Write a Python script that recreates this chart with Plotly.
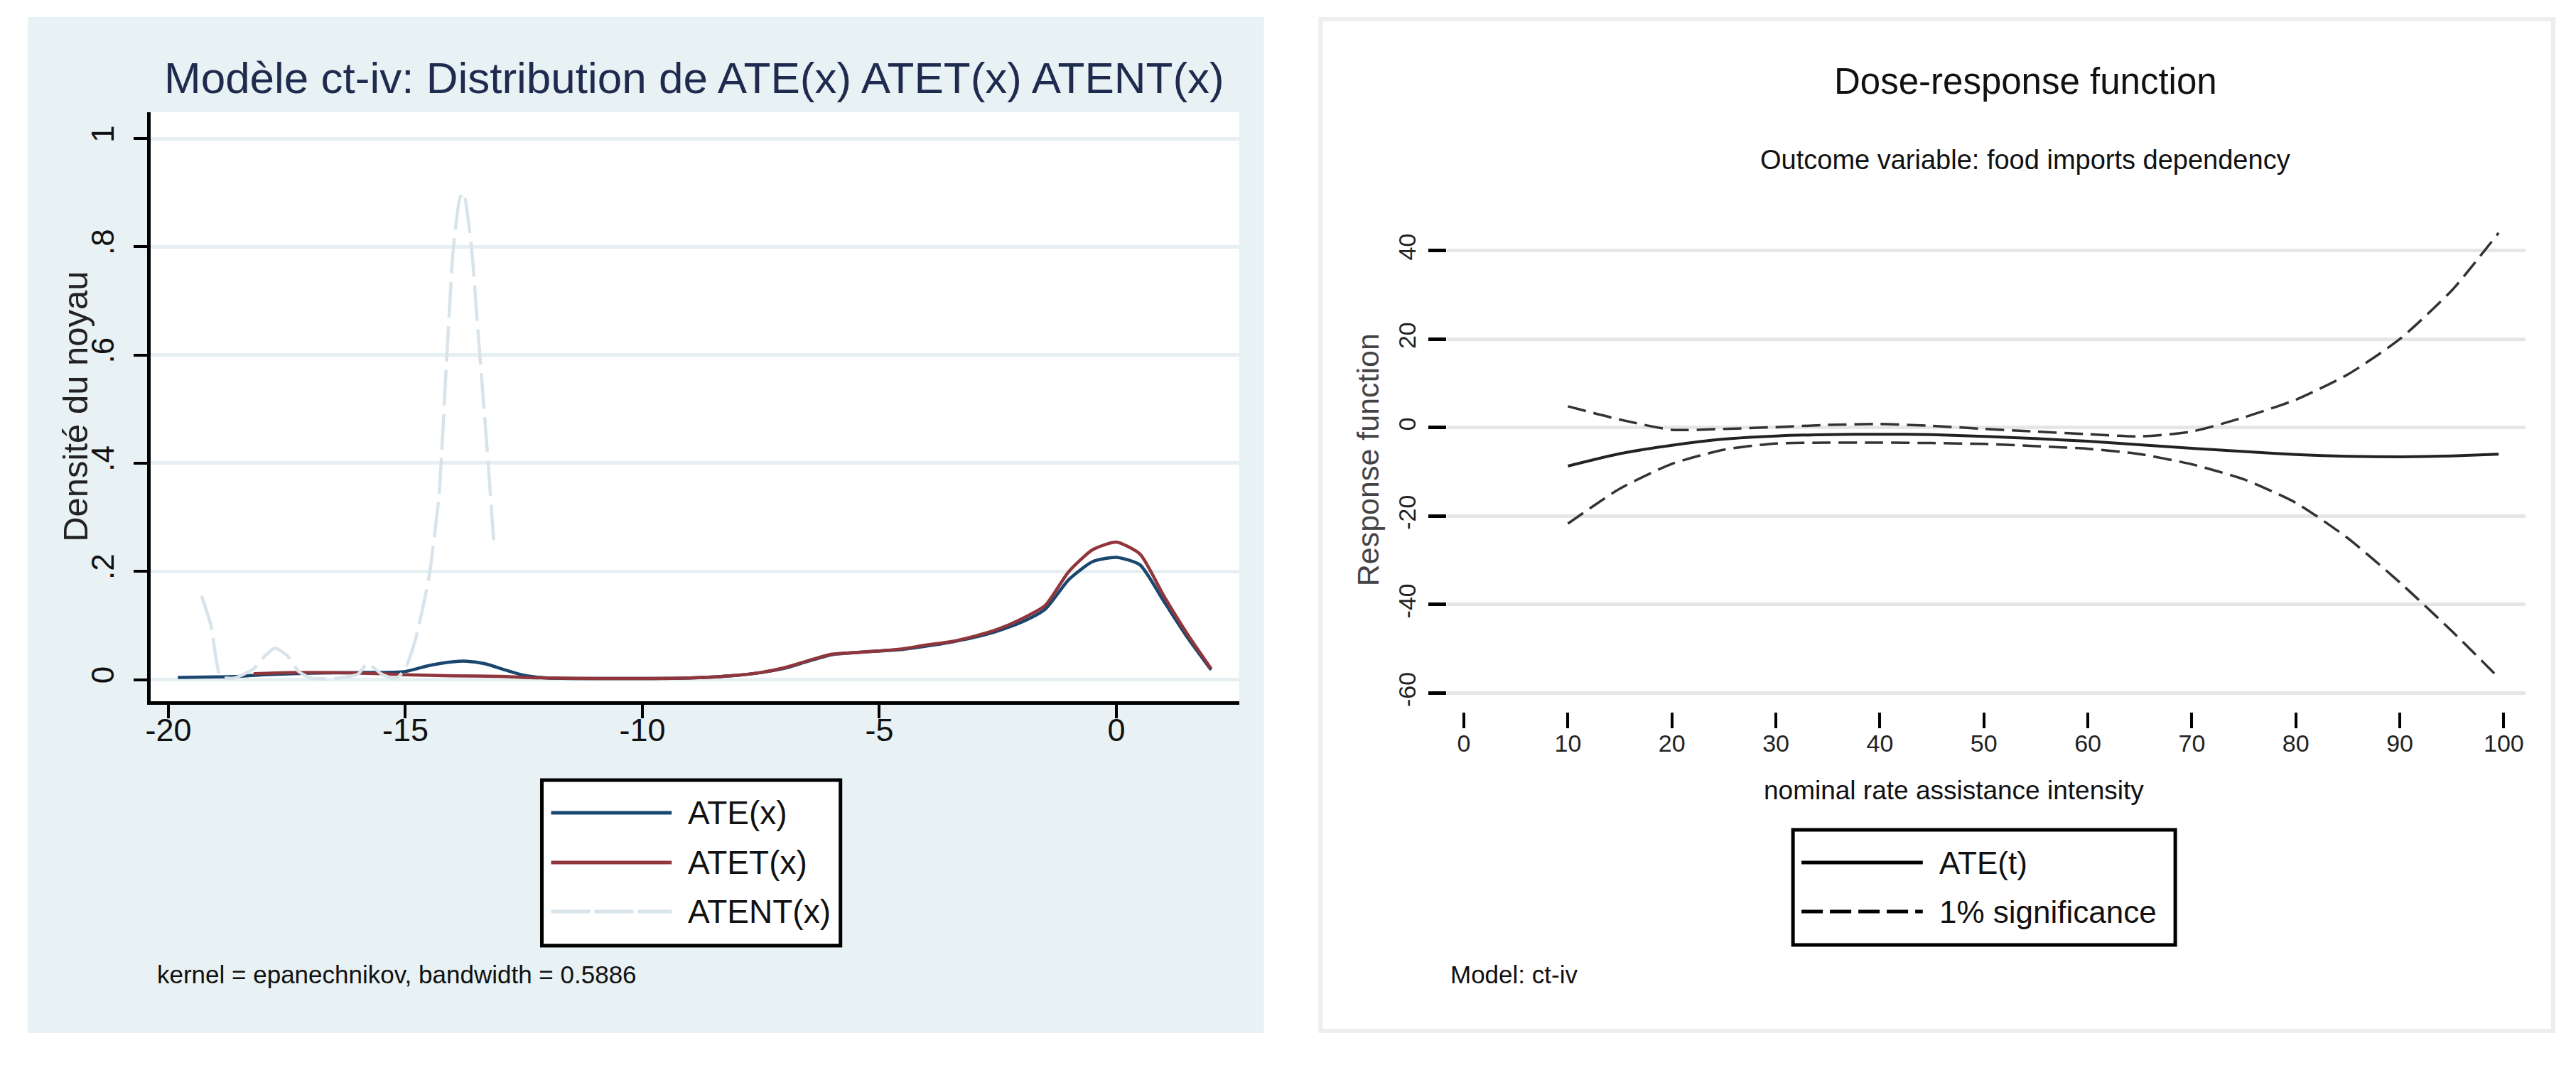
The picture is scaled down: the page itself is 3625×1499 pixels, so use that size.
import plotly.graph_objects as go

W, H = 3625, 1499

# ---------------- data: left panel (kernel densities) ----------------
ate_x = [-19.8, -19.0, -18.5, -18.0, -17.0, -16.0, -15.0, -14.5, -14.0, -13.7,
         -13.3, -12.9, -12.5, -12.0, -11.0, -10.0, -9.0, -8.0, -7.5, -7.0,
         -6.5, -6.0, -5.5, -5.0, -4.5, -4.0, -3.5, -3.0, -2.5, -2.0,
         -1.5, -1.0, -0.5, 0.0, 0.5, 1.0, 1.5, 2.0]
ate_y = [0.004, 0.005, 0.006, 0.009, 0.012, 0.013, 0.015, 0.026, 0.033, 0.034,
         0.029, 0.018, 0.008, 0.003, 0.002, 0.002, 0.003, 0.008, 0.013, 0.021,
         0.034, 0.046, 0.050, 0.053, 0.056, 0.062, 0.069, 0.078, 0.090, 0.106,
         0.130, 0.185, 0.218, 0.226, 0.212, 0.145, 0.078, 0.018]

atet_x = [-18.2, -17.5, -16.5, -15.5, -15.0, -14.0, -13.0, -12.5, -12.0, -11.0,
          -10.0, -9.0, -8.0, -7.5, -7.0, -6.5, -6.0, -5.5, -5.0, -4.5,
          -4.0, -3.5, -3.0, -2.5, -2.0, -1.5, -1.0, -0.5, 0.0, 0.5,
          1.0, 1.5, 2.0]
atet_y = [0.011, 0.013, 0.013, 0.011, 0.009, 0.007, 0.006, 0.004, 0.003, 0.002,
          0.002, 0.003, 0.008, 0.013, 0.022, 0.035, 0.047, 0.050, 0.053, 0.057,
          0.064, 0.070, 0.080, 0.093, 0.112, 0.137, 0.200, 0.240, 0.254, 0.232,
          0.155, 0.084, 0.020]

atent_x = [-19.3, -19.1, -18.9, -18.6, -18.2, -17.95, -17.75, -17.5, -17.25, -17.0,
           -16.5, -16.0, -15.8, -15.5, -15.2, -15.0, -14.77, -14.5, -14.29, -14.12,
           -13.99, -13.85, -13.77, -13.6, -13.47, -13.3, -13.13]
atent_y = [0.155, 0.100, 0.005, 0.003, 0.020, 0.045, 0.058, 0.045, 0.015, 0.003,
           0.002, 0.010, 0.030, 0.010, 0.002, 0.020, 0.080, 0.190, 0.340, 0.607,
           0.795, 0.890, 0.900, 0.795, 0.645, 0.456, 0.249]

left_names = ["ATE(x)", "ATET(x)", "ATENT(x)"]
left_xticks = [-20, -15, -10, -5, 0]
left_xtext = ["-20", "-15", "-10", "-5", "0"]
left_yticks = [0, 0.2, 0.4, 0.6, 0.8, 1]
left_ytext = ["0", ".2", ".4", ".6", ".8", "1"]

# ---------------- data: right panel (dose-response) ----------------
dose_t = [10, 15, 20, 25, 30, 35, 40, 45, 50, 55, 60, 65, 70, 75, 80, 85, 90, 95, 99.5]
ate_t = [-8.7, -5.9, -4.0, -2.6, -1.9, -1.6, -1.5, -1.6, -2.0, -2.5,
         -3.1, -3.9, -4.7, -5.4, -6.1, -6.5, -6.6, -6.4, -6.0]
upper_t = [4.8, 1.8, -0.5, -0.3, 0.1, 0.6, 0.8, 0.4, -0.3, -0.9,
           -1.5, -2.0, -0.9, 2.3, 6.3, 12.0, 20.0, 31.0, 44.0]
lower_t = [-21.7, -13.8, -8.2, -5.0, -3.6, -3.4, -3.4, -3.5, -3.7, -4.2,
           -4.8, -6.0, -8.3, -11.7, -17.0, -25.0, -35.0, -46.0, -56.5]

right_names = ["ATE(t)", "1% significance"]
right_xticks = [0, 10, 20, 30, 40, 50, 60, 70, 80, 90, 100]
right_xtext = [str(v) for v in right_xticks]
right_yticks = [-60, -40, -20, 0, 20, 40]
right_ytext = ["-60", "-40", "-20", "0", "20", "40"]

# ---------------- styling ----------------
SANS = "Liberation Sans, Arial, sans-serif"
C_ATE = "#1a476f"
C_ATET = "#90353b"
C_ATENT = "#d8e3ea"
C_BG = "#e8f1f3"
C_GRID_L = "#e6eff2"
C_GRID_R = "#e6e6e6"
DASH_R = "26px,11px"
DASH_L = "50px,12px"


def X(px):
    return px / W


def Y(py):
    return 1 - py / H


fig = go.Figure()

# left traces
fig.add_trace(go.Scatter(x=ate_x, y=ate_y, mode="lines", name=left_names[0],
                         line=dict(color=C_ATE, width=4.5, shape="spline", smoothing=0.6),
                         xaxis="x", yaxis="y", showlegend=False))
fig.add_trace(go.Scatter(x=atet_x, y=atet_y, mode="lines", name=left_names[1],
                         line=dict(color=C_ATET, width=4.5, shape="spline", smoothing=0.6),
                         xaxis="x", yaxis="y", showlegend=False))
fig.add_trace(go.Scatter(x=atent_x, y=atent_y, mode="lines", name=left_names[2],
                         line=dict(color=C_ATENT, width=4.5, dash=DASH_L, shape="spline", smoothing=0.5),
                         xaxis="x", yaxis="y", showlegend=False))

# right traces
fig.add_trace(go.Scatter(x=dose_t, y=upper_t, mode="lines", name=right_names[1],
                         line=dict(color="#333333", width=3.5, dash=DASH_R, shape="spline", smoothing=0.6),
                         xaxis="x2", yaxis="y2", showlegend=False))
fig.add_trace(go.Scatter(x=dose_t, y=lower_t, mode="lines", name=right_names[1],
                         line=dict(color="#333333", width=3.5, dash=DASH_R, shape="spline", smoothing=0.6),
                         xaxis="x2", yaxis="y2", showlegend=False))
fig.add_trace(go.Scatter(x=dose_t, y=ate_t, mode="lines", name=right_names[0],
                         line=dict(color="#222222", width=4, shape="spline", smoothing=0.6),
                         xaxis="x2", yaxis="y2", showlegend=False))

shapes = [
    # left panel background
    dict(type="rect", xref="paper", yref="paper", x0=X(32), x1=X(1775), y0=Y(1454), y1=Y(24),
         fillcolor=C_BG, line=dict(width=0), layer="below"),
    # left plot region
    dict(type="rect", xref="paper", yref="paper", x0=X(205), x1=X(1740), y0=Y(987), y1=Y(158),
         fillcolor="white", line=dict(width=0), layer="below"),
    # right panel frame
    dict(type="rect", xref="paper", yref="paper", x0=X(1855), x1=X(3593), y0=Y(1451), y1=Y(27),
         fillcolor="white", line=dict(color="#eeeeee", width=6), layer="below"),
    # left legend box
    dict(type="rect", xref="paper", yref="paper", x0=X(757), x1=X(1178), y0=Y(1331), y1=Y(1098),
         fillcolor="white", line=dict(color="black", width=5)),
    # right legend box
    dict(type="rect", xref="paper", yref="paper", x0=X(2521), x1=X(3060), y0=Y(1330), y1=Y(1168),
         fillcolor="white", line=dict(color="black", width=5)),
]

# legend samples
left_rows = [1144, 1214, 1283]
left_styles = [(C_ATE, "solid"), (C_ATET, "solid"), (C_ATENT, "55px,6px")]
for ry, (col, dsh) in zip(left_rows, left_styles):
    shapes.append(dict(type="line", xref="paper", yref="paper", x0=X(770), x1=X(940),
                       y0=Y(ry), y1=Y(ry), line=dict(color=col, width=5, dash=dsh)))
right_rows = [1214, 1283]
right_styles = ["solid", "30px,10px"]
for ry, dsh in zip(right_rows, right_styles):
    shapes.append(dict(type="line", xref="paper", yref="paper", x0=X(2533), x1=X(2704),
                       y0=Y(ry), y1=Y(ry), line=dict(color="black", width=5, dash=dsh)))

annotations = [
    dict(text="Modèle ct-iv: Distribution de ATE(x) ATET(x) ATENT(x)", x=X(972), y=Y(110),
         font=dict(family=SANS, size=62, color="#1e2b4f")),
    dict(text="Densité du noyau", x=X(99), y=Y(572), textangle=-90,
         font=dict(family=SANS, size=49, color="#222222")),
    dict(text="kernel = epanechnikov, bandwidth = 0.5886", x=X(212), y=Y(1371), xanchor="left",
         font=dict(family=SANS, size=35, color="#111111")),
    dict(text="Dose-response function", x=X(2849), y=Y(115),
         font=dict(family=SANS, size=51, color="#111111")),
    dict(text="Outcome variable: food imports dependency", x=X(2848), y=Y(225),
         font=dict(family=SANS, size=38, color="#111111")),
    dict(text="Response function", x=X(1922), y=Y(647), textangle=-90,
         font=dict(family=SANS, size=43, color="#444444")),
    dict(text="nominal rate assistance intensity", x=X(2748), y=Y(1112),
         font=dict(family=SANS, size=37, color="#111111")),
    dict(text="Model: ct-iv", x=X(2036), y=Y(1371), xanchor="left",
         font=dict(family=SANS, size=35, color="#111111")),
]
for ry, name in zip(left_rows, left_names):
    annotations.append(dict(text=name, x=X(961), y=Y(ry), xanchor="left",
                            font=dict(family=SANS, size=46, color="#111111")))
for ry, name in zip(right_rows, right_names):
    annotations.append(dict(text=name, x=X(2725), y=Y(ry), xanchor="left",
                            font=dict(family=SANS, size=44, color="#111111")))
for a in annotations:
    a.setdefault("xref", "paper")
    a.setdefault("yref", "paper")
    a.setdefault("showarrow", False)
    a.setdefault("xanchor", "center")
    a.setdefault("yanchor", "middle")

fig.update_layout(
    width=W, height=H,
    margin=dict(l=0, r=0, t=0, b=0),
    paper_bgcolor="white",
    plot_bgcolor="rgba(0,0,0,0)",
    showlegend=False,
    shapes=shapes,
    annotations=annotations,
    xaxis=dict(domain=[X(205), X(1740)], range=[-20.38, 2.59], anchor="y",
               tickvals=left_xticks, ticktext=left_xtext, ticks="outside", ticklen=19,
               tickwidth=4, tickcolor="black", showline=True, linewidth=5, linecolor="black",
               showgrid=False, zeroline=False, ticklabelstandoff=-22,
               tickfont=dict(family=SANS, size=45, color="#111111")),
    yaxis=dict(domain=[Y(987), Y(158)], range=[-0.040, 1.0486], anchor="x",
               tickvals=left_yticks, ticktext=left_ytext, tickangle=-90, ticks="outside",
               ticklen=19, tickwidth=4, tickcolor="black", showline=True, linewidth=5,
               linecolor="black", showgrid=True, gridcolor=C_GRID_L, gridwidth=5,
               zeroline=False, ticklabelstandoff=10,
               tickfont=dict(family=SANS, size=44, color="#111111")),
    xaxis2=dict(domain=[X(2033), X(3554)], range=[-1.64, 102.1], anchor="y2",
                tickvals=right_xticks, ticktext=right_xtext, ticks="outside", ticklen=22,
                tickwidth=4, tickcolor="black", showline=False, showgrid=False, zeroline=False,
                ticklabelstandoff=-8,
                tickfont=dict(family=SANS, size=34, color="#222222")),
    yaxis2=dict(domain=[Y(1002), Y(320)], range=[-64.25, 45.24], anchor="x2",
                tickvals=right_yticks, ticktext=right_ytext, tickangle=-90, ticks="outside",
                ticklen=25, tickwidth=5, tickcolor="black", showline=False, showgrid=True,
                gridcolor=C_GRID_R, gridwidth=5, zeroline=False, ticklabelstandoff=4,
                tickfont=dict(family=SANS, size=34, color="#222222")),
)

fig.write_html("out.html")
